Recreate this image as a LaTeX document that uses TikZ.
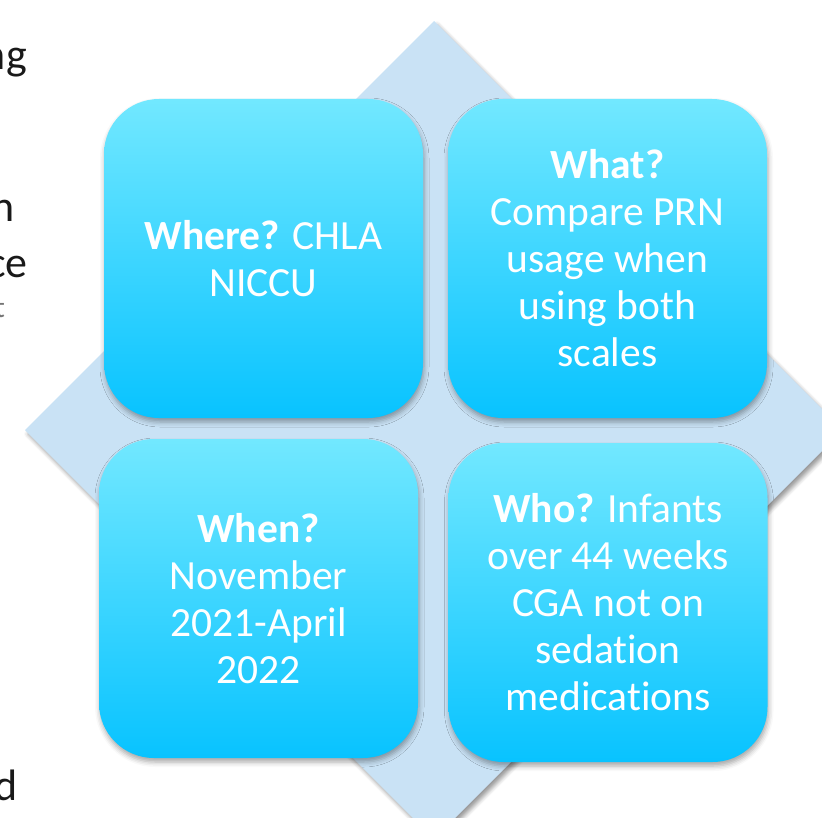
\documentclass[tikz,border=0pt]{standalone}
\usepackage{fontspec}
\setmainfont{Carlito}[Ligatures=NoCommon]
\usetikzlibrary{shadows.blur}
\definecolor{diamondfill}{RGB}{201,226,245}
\definecolor{boxtop}{RGB}{114,232,255}
\definecolor{boxbottom}{RGB}{8,195,255}
\definecolor{sidetext}{RGB}{25,25,25}

\begin{document}
\begin{tikzpicture}[x=1pt,y=-1pt,
  panel/.style={rectangle, rounded corners=55pt, minimum width=319pt,
    minimum height=319pt, inner sep=0pt, top color=boxtop,
    bottom color=boxbottom, draw=none, text=white, align=center,
    font=\fontsize{41.5}{47}\selectfont,
    blur shadow={shadow xshift=1pt, shadow yshift=-4pt,
      shadow blur radius=5pt, shadow opacity=35}},
  edgetext/.style={anchor=base east, inner sep=0pt, text=sidetext,
    font=\fontsize{44}{52}\selectfont}]
\useasboundingbox (0,0) rectangle (822,818);
\clip (0,0) rectangle (822,818);

% background diamond
\fill[diamondfill, blur shadow={shadow xshift=3pt, shadow yshift=-4pt,
      shadow blur radius=4pt, shadow opacity=40}]
  (434,21) -- (843,430) -- (434,839) -- (25,430) -- cycle;

% four panels
\node[panel] (where) at (263.5,258.5) {\textbf{Where?} CHLA\\NICCU};
\node[panel] (what)  at (607.5,258.5) {\textbf{What?}\\Compare PRN\\usage when\\using both\\scales};
\node[panel] (when)  at (258.5,598.5) {\textbf{When?}\\November\\2021-April\\2022};
\node[panel] (who)   at (608,602.5)   {\textbf{Who?} Infants\\over 44 weeks\\CGA not on\\sedation\\medications};

% text cut off at the left edge
\node[edgetext] (s1) at (27,70)  {ng};
\node[edgetext] (s2) at (15,222) {n};
\node[edgetext] (s3) at (28,278) {ce};
\node[edgetext, text=sidetext!60, font=\fontsize{30}{36}\selectfont] (s4) at (5,318) {t};
\node[edgetext] (s5) at (18,800) {d};
\end{tikzpicture}
\end{document}
